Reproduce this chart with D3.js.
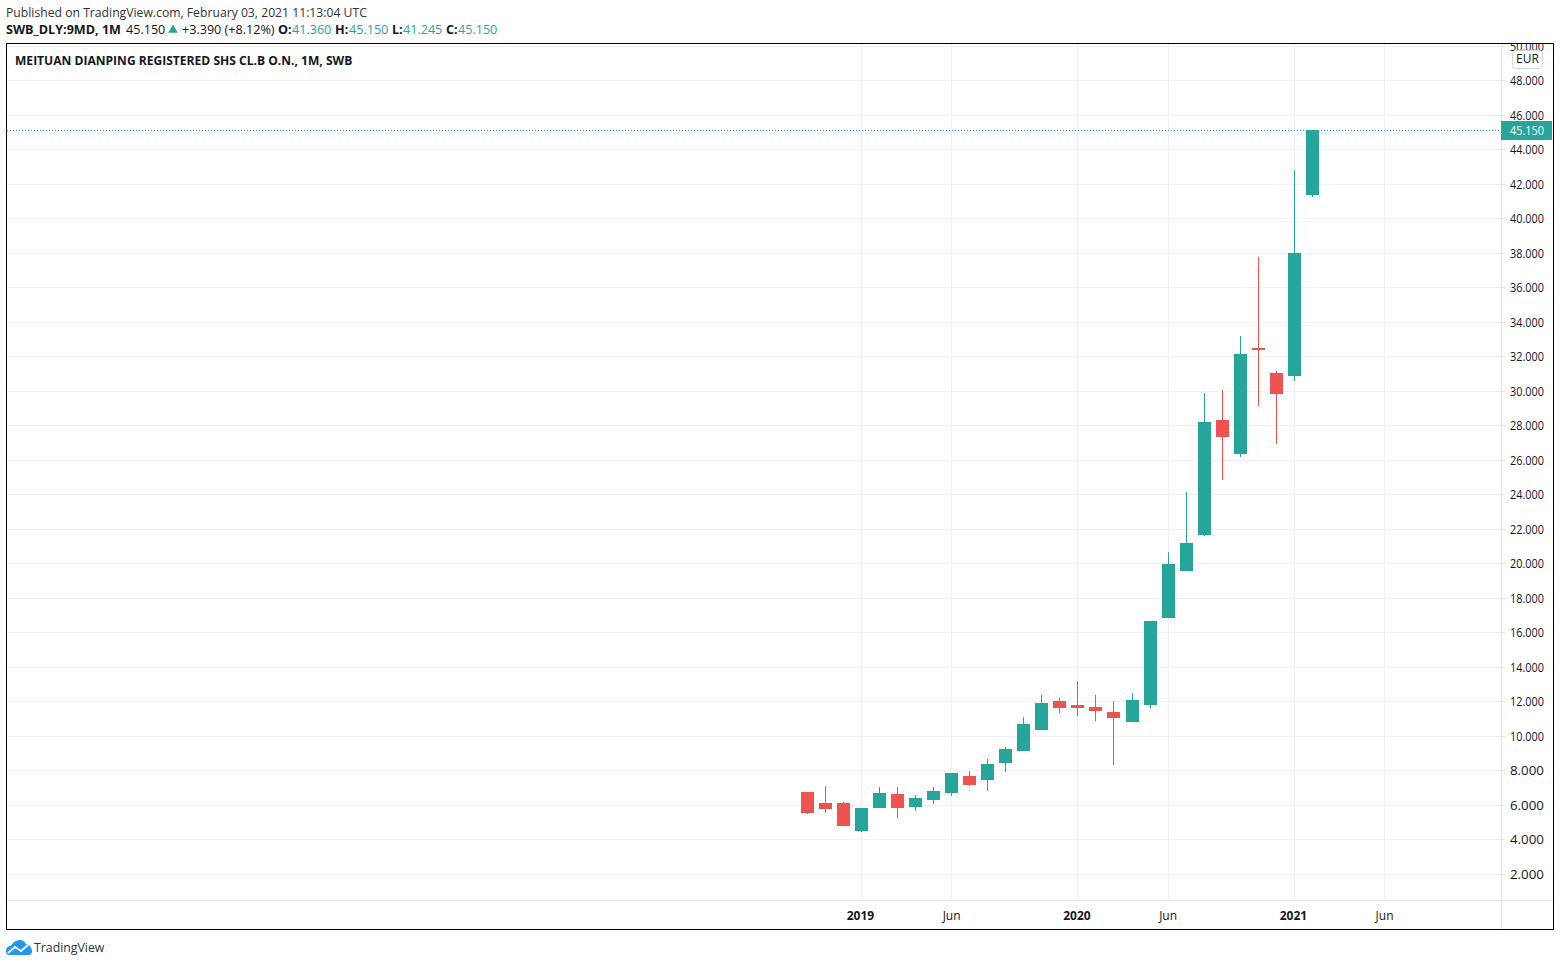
<!DOCTYPE html>
<html>
<head>
<meta charset="utf-8">
<script src="https://cdnjs.cloudflare.com/ajax/libs/d3/7.8.5/d3.min.js"></script>
<style>
  html, body { margin: 0; padding: 0; background: #fff; }
  svg { display: block; font-family: "Open Sans", sans-serif; }
  .domain { display: none; }
</style>
</head>
<body>
<svg id="chart" width="1560" height="966"></svg>
<script>
// monthly candles, Oct 2018 to Feb 2021
const opens  = [6.754, 6.116, 6.116, 4.49, 5.83, 6.64, 5.88, 6.29, 6.70, 7.68, 7.45, 8.43, 9.13, 10.35, 12.03, 11.80, 11.68, 11.39, 10.81, 11.80, 16.84, 19.57, 21.65, 28.32, 26.35, 32.49, 31.04, 30.87, 41.36];
const highs  = [6.754, 7.10, 6.17, 5.83, 7.04, 7.04, 6.58, 7.04, 7.86, 7.97, 8.67, 9.36, 11.10, 12.38, 12.20, 13.19, 12.38, 12.03, 12.49, 16.67, 20.67, 24.14, 29.88, 30.06, 33.19, 37.78, 31.16, 42.81, 45.15];
const lows   = [5.478, 5.536, 4.78, 4.43, 5.83, 5.25, 5.65, 6.06, 6.52, 7.10, 6.81, 7.91, 9.13, 10.35, 11.33, 11.16, 10.87, 8.32, 10.81, 11.62, 16.84, 19.57, 21.60, 24.84, 26.17, 29.13, 26.93, 30.58, 41.245];
const closes = [5.536, 5.768, 4.78, 5.83, 6.70, 5.83, 6.41, 6.81, 7.86, 7.16, 8.38, 9.25, 10.70, 11.91, 11.62, 11.62, 11.45, 11.04, 12.09, 16.67, 19.97, 21.19, 28.20, 27.33, 32.12, 32.37, 29.83, 38.00, 45.15];

const priceTicks = d3.range(2, 52, 2);
const monthTicks = [3, 8, 15, 20, 27, 32];
const monthLabels = ["2019", "Jun", "2020", "Jun", "2021", "Jun"];
const lastPrice = 45.15;

const GREEN = "#26a69a", RED = "#ef5350", GRID = "#f0f1f4", AXIS = "#e0e3eb", TEXT = "#131722";

const svg = d3.select("#chart");

const y = d3.scaleLinear().domain([2, 48]).range([874, 80.5]);
const x = d3.scaleLinear().domain([0, 28]).range([807.3, 1312.42]);

svg.append("clipPath").attr("id", "frame")
  .append("rect").attr("x", 7).attr("y", 44).attr("width", 1547).attr("height", 885);

const root = svg.append("g").attr("clip-path", "url(#frame)");

// grid
const gridY = root.append("g").attr("transform", "translate(7,0)")
  .call(d3.axisRight(y).offset(0).tickValues(priceTicks).tickSize(1494).tickFormat(""));
gridY.selectAll("line").attr("stroke", GRID).attr("shape-rendering", "crispEdges");

const gridX = root.append("g").attr("transform", "translate(0,44)")
  .call(d3.axisBottom(x).offset(0).tickValues(monthTicks).tickSize(856).tickFormat(""));
gridX.selectAll("line").attr("stroke", GRID).attr("shape-rendering", "crispEdges");

// candles
const candles = d3.range(opens.length);
const colorOf = i => closes[i] >= opens[i] ? GREEN : RED;

root.append("g").selectAll("rect").data(candles).join("rect")
  .attr("x", i => Math.round(x(i) - 0.5)).attr("width", 1)
  .attr("y", i => Math.round(y(highs[i])))
  .attr("height", i => Math.round(y(lows[i])) - Math.round(y(highs[i])))
  .attr("fill", colorOf)
  .attr("shape-rendering", "crispEdges");

root.append("g").selectAll("rect").data(candles).join("rect")
  .attr("x", i => Math.round(x(i) - 6.5)).attr("width", 13)
  .attr("y", i => Math.round(y(Math.max(opens[i], closes[i]))))
  .attr("height", i => Math.max(2, Math.round(Math.abs(y(opens[i]) - y(closes[i])))))
  .attr("fill", colorOf)
  .attr("shape-rendering", "crispEdges");

// last price line
const lastY = Math.round(y(lastPrice)) + 0.5;
root.append("line")
  .attr("x1", 7).attr("x2", 1501).attr("y1", lastY).attr("y2", lastY)
  .attr("stroke", GREEN).attr("stroke-width", 1).attr("stroke-dasharray", "1 2");

// price axis
const axisY = root.append("g").attr("transform", "translate(1501,0)")
  .call(d3.axisRight(y).offset(0).tickValues(priceTicks).tickSize(4).tickFormat(d3.format(".3f")));
axisY.selectAll("line").attr("stroke", AXIS).attr("shape-rendering", "crispEdges");
axisY.selectAll("text")
  .attr("x", 43).attr("text-anchor", "end").attr("dy", "0.4em")
  .attr("textLength", 34).attr("lengthAdjust", "spacingAndGlyphs")
  .attr("fill", TEXT).style("font-size", "12px").style("font-family", "'Open Sans', sans-serif");

root.append("line").attr("x1", 1501.5).attr("x2", 1501.5).attr("y1", 44).attr("y2", 929)
  .attr("stroke", AXIS).attr("shape-rendering", "crispEdges");
root.append("line").attr("x1", 7).attr("x2", 1554).attr("y1", 900.5).attr("y2", 900.5)
  .attr("stroke", AXIS).attr("shape-rendering", "crispEdges");

// time axis
const axisX = root.append("g").attr("transform", "translate(0,900)")
  .call(d3.axisBottom(x).offset(0).tickValues(monthTicks).tickSize(0).tickFormat((d, i) => monthLabels[i]));
axisX.selectAll("text")
  .attr("y", 20).attr("dy", "0")
  .attr("dx", (d, i) => i % 2 === 0 ? -1 : 0)
  .attr("fill", TEXT)
  .style("font-size", "12px").style("font-family", "'Open Sans', sans-serif")
  .style("font-weight", (d, i) => i % 2 === 0 ? 700 : 400);

// currency box
root.append("rect").attr("x", 1512.5).attr("y", 50.5).attr("width", 30).attr("height", 18).attr("rx", 3)
  .attr("fill", "#fff").attr("stroke", "#d6d8e0");
root.append("text").attr("x", 1527.5).attr("y", 62.5).attr("text-anchor", "middle")
  .attr("fill", TEXT).style("font-size", "12px").text("EUR");

// last price label
root.append("rect").attr("x", 1501).attr("y", 121).attr("width", 51).attr("height", 19)
  .attr("fill", GREEN);
root.append("text").attr("x", 1544).attr("y", 135).attr("text-anchor", "end")
  .attr("textLength", 34).attr("lengthAdjust", "spacingAndGlyphs")
  .attr("fill", "#fff").style("font-size", "12px").text(d3.format(".3f")(lastPrice));

// frame
svg.append("rect").attr("x", 6.5).attr("y", 43.5).attr("width", 1547).attr("height", 886)
  .attr("fill", "none").attr("stroke", "#000").attr("shape-rendering", "crispEdges");

// chart title
svg.append("text").attr("x", 15).attr("y", 65)
  .attr("fill", TEXT).style("font-size", "12.07px").style("font-weight", 700)
  .text("MEITUAN DIANPING REGISTERED SHS CL.B O.N., 1M, SWB");

// header lines
svg.append("text").attr("x", 6).attr("y", 17)
  .attr("fill", "#333").style("font-size", "12.2px")
  .text("Published on TradingView.com, February 03, 2021 11:13:04 UTC");

const headerTexts = ["SWB_DLY:9MD, 1M", "45.150", "+3.390 (+8.12%)", "O:", "41.360", "H:", "45.150", "L:", "41.245", "C:", "45.150"];
const headerLeft  = [6, 126, 182, 278, 292, 335, 349, 392, 403, 446, 458];
const headerBold  = [true, false, false, true, false, true, false, true, false, true, false];
const headerGreen = [false, false, false, false, true, false, true, false, true, false, true];

svg.append("g").selectAll("text").data(headerTexts).join("text")
  .attr("x", (d, i) => headerLeft[i]).attr("y", 34)
  .attr("fill", (d, i) => headerGreen[i] ? GREEN : TEXT)
  .style("font-size", "12.6px")
  .style("font-weight", (d, i) => headerBold[i] ? 700 : 400)
  .text(d => d);

svg.append("path")
  .attr("d", d3.symbol(d3.symbolTriangle, 40)())
  .attr("transform", "translate(173,30)")
  .attr("fill", GREEN);

// logo
const logo = svg.append("g").attr("transform", "translate(6,940)");
logo.append("path")
  .attr("d", "M0 11 C0 8 2 6 5 6 C7 2 11 0 14 0 C17 0 19 2 20 4 C23 4 26 8 26 11 C26 13 25 15 23 15 L3 15 C1 15 0 13 0 11 Z")
  .attr("fill", "#2196f3");
logo.append("path").attr("d", "M2 13 L9 7 L15 11 L23 4")
  .attr("fill", "none").attr("stroke", "#fff").attr("stroke-width", 1.8);
svg.append("text").attr("x", 34).attr("y", 952)
  .attr("fill", "#333").style("font-size", "12.3px").text("TradingView");
</script>
</body>
</html>
